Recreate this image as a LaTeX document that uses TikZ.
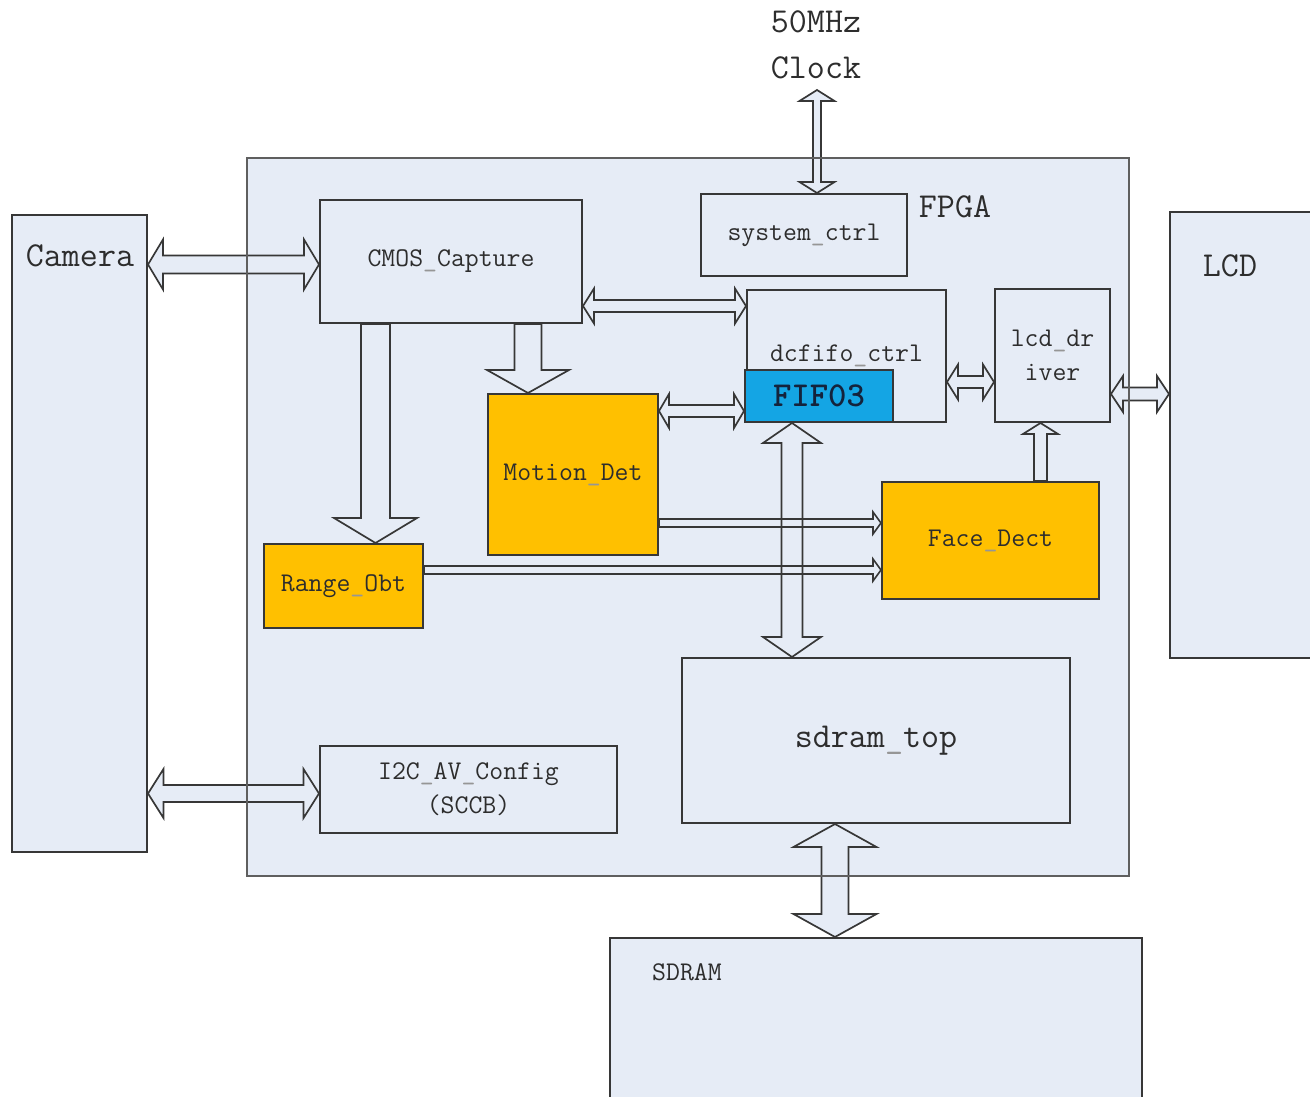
\documentclass[tikz,border=0pt]{standalone}
\usepackage{fontspec}
\usetikzlibrary{calc}

\definecolor{panel}{RGB}{230,236,246}
\definecolor{linegray}{RGB}{55,55,55}
\definecolor{framegray}{RGB}{95,95,95}
\definecolor{textgray}{RGB}{45,45,45}
\definecolor{usgray}{RGB}{150,150,150}
\definecolor{detorange}{RGB}{255,192,0}
\definecolor{fifoblue}{RGB}{20,165,228}
\definecolor{fifotext}{RGB}{20,35,60}

\newcommand{\us}{{\color{usgray}\_}}

\begin{document}
\begin{tikzpicture}[x=1pt, y=-1pt,
    txt/.style={text=textgray, font=\ttfamily\fontsize{27}{34}\selectfont},
    bigtxt/.style={text=textgray, font=\ttfamily\fontsize{35}{46}\selectfont},
    box/.style={draw=linegray, line width=2pt, fill=panel, inner sep=0pt, txt},
    detbox/.style={box, fill=detorange},
    blockarrow/.style={draw=linegray, line width=1.7pt, fill=panel, line join=miter},
    thinarrow/.style={draw=linegray, line width=1.6pt},
    frame/.style={draw=framegray, line width=2pt}]
    % --- block arrows: style, end, end, shaft half, head half, head length ---
    \def\dblarrow#1#2#3#4#5#6{%
      \path (#2) coordinate (pa) (#3) coordinate (pb);
      \path ($(pa)!#6pt!(pb)$) coordinate (ta) ($(pb)!#6pt!(pa)$) coordinate (tb);
      \draw[#1] (pa) -- ($(ta)!#5pt!90:(pb)$) -- ($(ta)!#4pt!90:(pb)$)
        -- ($(tb)!#4pt!-90:(pa)$) -- ($(tb)!#5pt!-90:(pa)$) -- (pb)
        -- ($(tb)!#5pt!90:(pa)$) -- ($(tb)!#4pt!90:(pa)$)
        -- ($(ta)!#4pt!-90:(pb)$) -- ($(ta)!#5pt!-90:(pb)$) -- cycle;}
    \def\onearrow#1#2#3#4#5#6{%
      \path (#2) coordinate (pa) (#3) coordinate (pb);
      \path ($(pb)!#6pt!(pa)$) coordinate (tb);
      \draw[#1] ($(pa)!#4pt!90:(pb)$) -- ($(tb)!#4pt!-90:(pa)$)
        -- ($(tb)!#5pt!-90:(pa)$) -- (pb) -- ($(tb)!#5pt!90:(pa)$)
        -- ($(tb)!#4pt!90:(pa)$) -- ($(pa)!#4pt!-90:(pb)$) -- cycle;}

    \useasboundingbox (0,0) rectangle (1310,1097);
    \clip (0,0) rectangle (1310,1097);

    % --- outside parts ---
    \node[box, minimum width=135pt, minimum height=637pt] (cam) at (79.5,533.5) {};
    \node[bigtxt] (camtxt) at (80,256) {Camera};
    \node[box, minimum width=150pt, minimum height=446pt] (lcd) at (1245,435) {};
    \node[bigtxt] (lcdtxt) at (1230,266) {LCD};
    \node[box, minimum width=532pt, minimum height=172pt] (sdram) at (876,1024) {};
    \node[txt] (sdramtxt) at (687,972) {SDRAM};
    \node[bigtxt, align=center] (clk) at (816,45) {50MHz\\Clock};
    \coordinate (clktip) at (817,90);

    % --- FPGA and its modules ---
    \node[fill=panel, minimum width=882pt, minimum height=718pt] (fpga) at (688,517) {};
    \node[bigtxt] (fpgatxt) at (955,207) {FPGA};
    \node[box, minimum width=206pt, minimum height=82pt] (sysctrl) at (804,235) {system\us ctrl};
    \node[box, minimum width=262pt, minimum height=123pt] (cmos) at (451,261.5) {CMOS\us Capture};
    \node[box, minimum width=199pt, minimum height=132pt] (dcfifo) at (846.5,356) {dcfifo\us ctrl};
    \node[box, fill=fifoblue, minimum width=148pt, minimum height=52pt,
          text=fifotext, font=\ttfamily\bfseries\fontsize{35}{40}\selectfont] (fifo) at (819,396) {FIF03};
    \node[box, align=center, minimum width=115pt, minimum height=133pt] (lcddrv) at (1052.5,355.5) {lcd\us dr\\iver};
    \node[detbox, minimum width=170pt, minimum height=161pt] (motion) at (573,474.5) {Motion\us Det};
    \node[detbox, minimum width=159pt, minimum height=84pt] (range) at (343.5,586) {Range\us Obt};
    \node[detbox, minimum width=217pt, minimum height=117pt] (face) at (990.5,540.5) {Face\us Dect};
    \node[box, minimum width=388pt, minimum height=165pt, bigtxt] (sdramtop) at (876,740.5) {sdram\us top};
    \node[box, align=center, minimum width=297pt, minimum height=87pt] (i2c) at (468.5,789.5) {I2C\us AV\us Config\\(SCCB)};

    % --- connections ---
    \dblarrow{blockarrow}{clktip}{sysctrl.north -| clktip}{4}{17.5}{11}
    \dblarrow{blockarrow}{$(cam.east |- cmos.west)+(0,3)$}{$(cmos.west)+(0,3)$}{9}{25}{15}
    \dblarrow{blockarrow}{$(cmos.east)+(0,44.5)$}{$(dcfifo.west)+(0,-50)$}{6}{17.5}{11}
    \onearrow{blockarrow}{$(cmos.south)+(77,0)$}{$(motion.north)+(-45,0)$}{13.5}{41}{23}
    \onearrow{blockarrow}{$(cmos.south)+(-75.5,0)$}{$(range.north)+(32,0)$}{14.5}{41.5}{25}
    \dblarrow{blockarrow}{$(motion.east)+(0,-63.5)$}{$(fifo.west)+(0,15)$}{6}{17}{10}
    \dblarrow{blockarrow}{$(fifo.south)+(-27,0)$}{$(sdramtop.north)+(-84,0)$}{10.5}{29}{20}
    \dblarrow{blockarrow}{$(dcfifo.east)+(0,26)$}{$(lcddrv.west)+(0,26.5)$}{6}{17.5}{11}
    \dblarrow{blockarrow}{$(lcddrv.east)+(0,38.5)$}{$(lcd.west)+(0,-41)$}{6.5}{18}{12}
    \onearrow{blockarrow}{$(face.north)+(50,0)$}{$(lcddrv.south)+(-12,0)$}{6.5}{17.5}{11}
    \onearrow{thinarrow}{$(motion.east)+(0,48.5)$}{$(face.west)+(0,-17.5)$}{4}{11}{8}
    \onearrow{thinarrow}{$(range.east)+(0,-16)$}{$(face.west)+(0,29.5)$}{4}{11}{8}
    \dblarrow{blockarrow}{$(sdramtop.south)+(-41,0)$}{$(sdram.north)+(-41,0)$}{13.5}{41.5}{23}
    \dblarrow{blockarrow}{$(cam.east)+(0,260)$}{$(i2c.west)+(0,4)$}{8.5}{24.5}{15.5}

    % FPGA outline on top
    \draw[frame] (fpga.north west) rectangle (fpga.south east);
\end{tikzpicture}
\end{document}
